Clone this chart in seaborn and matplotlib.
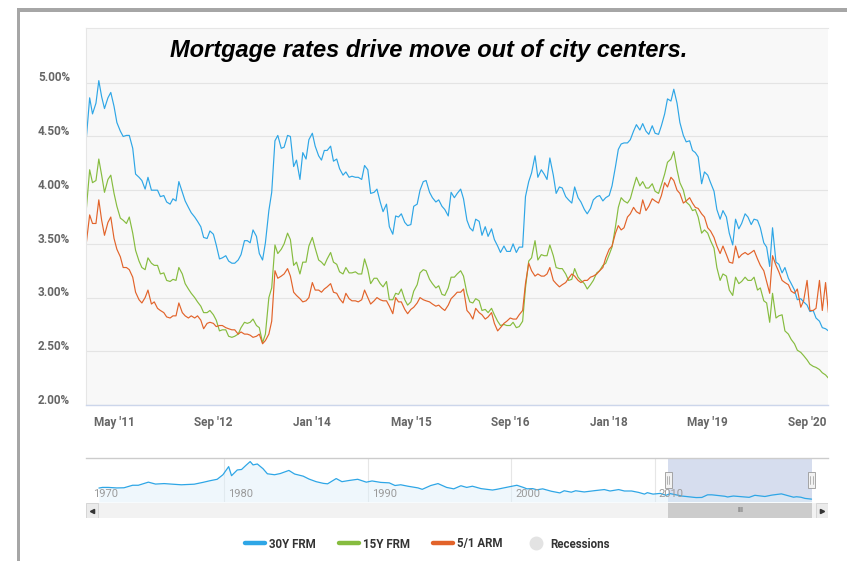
import pandas as pd
import matplotlib.pyplot as plt
import seaborn as sns
from matplotlib.lines import Line2D
from matplotlib.patches import Rectangle
from matplotlib.transforms import ScaledTranslation, blended_transform_factory

sns.set_style("white")
plt.rcParams["font.family"] = ["Roboto", "DejaVu Sans"]

# Rates, twice a month (1st and 15th) from 15 Dec 2010
first_date = "2010-12-15"

rate_30y = [
    4.47,
    4.86, 4.71, 4.81, 5.02, 4.87, 4.76, 4.86, 4.91, 4.78, 4.63, 4.55, 4.50, 4.51, 4.51, 4.39, 4.15, 4.12, 4.09, 4.01, 4.12, 4.00, 4.00, 4.00, 3.94,
    3.95, 3.89, 3.87, 3.92, 3.90, 4.08, 3.98, 3.90, 3.84, 3.79, 3.75, 3.71, 3.66, 3.56, 3.55, 3.62, 3.59, 3.49, 3.36, 3.37, 3.39, 3.34, 3.32, 3.32,
    3.35, 3.40, 3.53, 3.53, 3.51, 3.63, 3.57, 3.41, 3.35, 3.51, 3.81, 3.98, 4.46, 4.51, 4.39, 4.40, 4.51, 4.50, 4.22, 4.28, 4.10, 4.35, 4.29, 4.47,
    4.53, 4.41, 4.32, 4.28, 4.37, 4.37, 4.41, 4.27, 4.29, 4.20, 4.14, 4.17, 4.12, 4.13, 4.12, 4.12, 4.10, 4.23, 4.19, 3.97, 3.98, 4.01, 3.89, 3.80,
    3.87, 3.66, 3.59, 3.76, 3.75, 3.78, 3.70, 3.67, 3.68, 3.85, 3.87, 4.00, 4.08, 4.09, 3.98, 3.93, 3.89, 3.91, 3.85, 3.82, 3.76, 3.98, 3.93, 3.97,
    4.01, 3.92, 3.72, 3.65, 3.62, 3.73, 3.71, 3.58, 3.66, 3.57, 3.64, 3.54, 3.48, 3.42, 3.48, 3.43, 3.43, 3.50, 3.42, 3.47, 3.47, 3.94, 4.08, 4.16,
    4.32, 4.12, 4.19, 4.15, 4.10, 4.30, 4.14, 3.97, 4.03, 4.02, 3.94, 3.91, 3.88, 4.03, 3.93, 3.89, 3.82, 3.78, 3.83, 3.91, 3.94, 3.95, 3.90, 3.93,
    3.95, 4.04, 4.22, 4.38, 4.43, 4.44, 4.44, 4.47, 4.55, 4.61, 4.56, 4.62, 4.55, 4.52, 4.60, 4.53, 4.52, 4.60, 4.71, 4.85, 4.83, 4.94, 4.81, 4.63,
    4.51, 4.45, 4.46, 4.37, 4.35, 4.31, 4.06, 4.17, 4.14, 4.07, 3.99, 3.82, 3.73, 3.81, 3.75, 3.60, 3.49, 3.73, 3.64, 3.69, 3.78, 3.75, 3.68, 3.73,
    3.72, 3.65, 3.51, 3.47, 3.29, 3.65, 3.33, 3.31, 3.23, 3.28, 3.18, 3.13, 3.07, 2.98, 2.99, 2.96, 2.93, 2.87, 2.88, 2.81, 2.78, 2.72, 2.71, 2.69,
]

rate_15y = [
    3.81,
    4.19, 4.07, 4.09, 4.29, 4.14, 3.98, 4.10, 4.14, 3.97, 3.85, 3.74, 3.72, 3.69, 3.75, 3.60, 3.44, 3.34, 3.28, 3.26, 3.37, 3.32, 3.30, 3.30, 3.22,
    3.23, 3.16, 3.15, 3.17, 3.16, 3.28, 3.22, 3.13, 3.08, 3.04, 3.00, 2.96, 2.92, 2.86, 2.86, 2.88, 2.84, 2.79, 2.69, 2.70, 2.70, 2.64, 2.63, 2.64,
    2.66, 2.72, 2.77, 2.76, 2.77, 2.80, 2.74, 2.72, 2.58, 2.66, 3.00, 3.09, 3.49, 3.41, 3.45, 3.50, 3.60, 3.54, 3.30, 3.33, 3.22, 3.33, 3.33, 3.48,
    3.56, 3.46, 3.35, 3.33, 3.30, 3.36, 3.42, 3.33, 3.31, 3.24, 3.22, 3.28, 3.23, 3.23, 3.24, 3.22, 3.22, 3.36, 3.26, 3.13, 3.18, 3.18, 3.13, 3.10,
    3.15, 2.98, 2.98, 3.04, 3.03, 3.08, 2.98, 2.93, 2.96, 3.06, 3.12, 3.23, 3.26, 3.25, 3.17, 3.13, 3.09, 3.11, 3.03, 3.02, 3.09, 3.19, 3.19, 3.22,
    3.25, 3.20, 3.04, 2.96, 2.95, 2.99, 2.97, 2.88, 2.89, 2.86, 2.90, 2.84, 2.78, 2.74, 2.75, 2.74, 2.74, 2.77, 2.72, 2.73, 2.78, 3.09, 3.34, 3.37,
    3.53, 3.35, 3.40, 3.39, 3.39, 3.49, 3.39, 3.28, 3.27, 3.27, 3.22, 3.16, 3.17, 3.27, 3.19, 3.16, 3.13, 3.08, 3.12, 3.16, 3.23, 3.25, 3.30, 3.32,
    3.40, 3.47, 3.66, 3.84, 3.93, 3.90, 3.88, 3.92, 4.03, 4.12, 4.04, 4.08, 4.02, 4.02, 4.06, 3.99, 3.97, 4.05, 4.15, 4.26, 4.29, 4.36, 4.19, 4.07,
    4.00, 3.89, 3.86, 3.81, 3.82, 3.75, 3.60, 3.63, 3.60, 3.53, 3.46, 3.28, 3.16, 3.22, 3.20, 3.07, 3.02, 3.19, 3.13, 3.15, 3.19, 3.16, 3.16, 3.19,
    3.07, 3.09, 2.97, 2.95, 2.77, 3.04, 2.81, 2.83, 2.84, 2.69, 2.66, 2.61, 2.57, 2.51, 2.49, 2.46, 2.42, 2.38, 2.36, 2.35, 2.33, 2.30, 2.28, 2.25,
]

rate_arm = [
    3.50,
    3.77, 3.69, 3.69, 3.91, 3.72, 3.58, 3.70, 3.75, 3.55, 3.45, 3.38, 3.28, 3.28, 3.26, 3.19, 3.05, 2.98, 2.95, 3.00, 3.07, 2.94, 2.96, 2.90, 2.88,
    2.86, 2.82, 2.81, 2.83, 2.83, 2.95, 2.86, 2.83, 2.81, 2.83, 2.81, 2.83, 2.79, 2.71, 2.76, 2.77, 2.76, 2.73, 2.74, 2.74, 2.72, 2.71, 2.70, 2.70,
    2.66, 2.68, 2.66, 2.66, 2.65, 2.63, 2.64, 2.66, 2.57, 2.60, 2.66, 2.78, 3.25, 3.18, 3.20, 3.22, 3.27, 3.20, 3.05, 3.02, 2.99, 2.96, 2.97, 3.00,
    3.14, 3.07, 3.07, 3.05, 3.08, 3.10, 3.13, 3.05, 3.04, 2.99, 2.95, 3.04, 2.99, 2.97, 2.97, 2.96, 2.98, 3.07, 3.00, 2.94, 2.97, 3.00, 2.98, 2.97,
    2.97, 2.92, 2.85, 3.00, 2.96, 2.96, 2.89, 2.85, 2.89, 2.91, 2.95, 3.00, 2.98, 2.97, 2.96, 2.94, 2.92, 2.93, 2.90, 2.88, 2.93, 2.99, 3.02, 3.05,
    3.05, 3.08, 2.88, 2.85, 2.80, 2.90, 2.86, 2.84, 2.80, 2.82, 2.86, 2.76, 2.69, 2.72, 2.76, 2.78, 2.81, 2.80, 2.80, 2.84, 2.88, 3.13, 3.32, 3.25,
    3.20, 3.22, 3.20, 3.20, 3.22, 3.28, 3.16, 3.13, 3.10, 3.12, 3.14, 3.18, 3.22, 3.20, 3.16, 3.14, 3.16, 3.16, 3.19, 3.20, 3.22, 3.25, 3.28, 3.37,
    3.45, 3.48, 3.60, 3.67, 3.63, 3.65, 3.75, 3.78, 3.84, 3.80, 3.78, 3.91, 3.81, 3.85, 3.92, 3.90, 3.88, 3.95, 4.07, 4.03, 4.12, 4.09, 4.00, 3.97,
    3.88, 3.90, 3.93, 3.88, 3.84, 3.83, 3.78, 3.75, 3.65, 3.62, 3.56, 3.48, 3.41, 3.48, 3.40, 3.33, 3.32, 3.48, 3.37, 3.40, 3.42, 3.40, 3.42, 3.44,
    3.36, 3.30, 3.25, 3.15, 3.04, 3.39, 3.30, 3.24, 3.16, 3.14, 3.12, 3.06, 3.04, 3.08, 2.91, 2.97, 3.16, 2.88, 2.88, 2.90, 3.16, 2.88, 3.14, 2.86,
]

series_names = ["30Y FRM", "15Y FRM", "5/1 ARM"]
colors = ["#2ea6e6", "#86bc3f", "#e2632a"]

tick_dates = ["2011-05-01", "2012-09-01", "2014-01-01", "2015-05-01",
              "2016-09-01", "2018-01-01", "2019-05-01", "2020-09-01"]
tick_labels = ["May '11", "Sep '12", "Jan '14", "May '15",
               "Sep '16", "Jan '18", "May '19", "Sep '20"]
y_ticks = [2.0, 2.5, 3.0, 3.5, 4.0, 4.5, 5.0]

# navigator: 30Y FRM history since 1971 (year, rate)
nav_years = [1971.25, 1971.5, 1971.9, 1972.5, 1973.0, 1973.6, 1974.0, 1974.7, 1975.2, 1975.8,
             1976.5, 1977.0, 1977.9, 1978.5, 1979.0, 1979.5, 1979.9, 1980.3, 1980.5, 1980.9,
             1981.2, 1981.5, 1981.8, 1982.0, 1982.3, 1982.7, 1983.0, 1983.5, 1983.9, 1984.5,
             1984.9, 1985.5, 1985.9, 1986.4, 1986.9, 1987.2, 1987.8, 1988.2, 1988.7, 1989.3,
             1989.9, 1990.3, 1990.9, 1991.5, 1991.9, 1992.3, 1992.8, 1993.5, 1993.8, 1994.4,
             1994.9, 1995.5, 1996.0, 1996.5, 1996.9, 1997.3, 1997.9, 1998.7, 1999.0, 1999.9,
             2000.4, 2000.9, 2001.1, 2001.5, 2001.8, 2002.2, 2002.8, 2003.4, 2003.7, 2004.2,
             2004.5, 2005.1, 2005.9, 2006.5, 2006.9, 2007.5, 2007.9, 2008.4, 2008.9, 2009.3,
             2009.5, 2009.9, 2010.4, 2010.8, 2011.1, 2011.9, 2012.9, 2013.3, 2013.7, 2014.0,
             2014.9, 2015.1, 2015.5, 2016.6, 2017.0, 2017.7, 2018.2, 2018.85, 2019.7, 2019.9,
             2020.2, 2020.5, 2020.95]
nav_rates = [7.33, 7.60, 7.60, 7.38, 7.45, 8.50, 8.50, 9.80, 9.00, 9.20,
             8.90, 8.70, 8.95, 9.70, 10.40, 11.00, 12.90, 16.30, 12.50, 14.90,
             15.10, 16.80, 18.40, 17.00, 17.40, 15.40, 13.30, 12.90, 13.40, 14.70,
             13.20, 12.30, 11.10, 10.00, 9.30, 9.10, 11.30, 10.00, 10.50, 11.00,
             9.80, 10.30, 9.70, 9.50, 8.40, 8.70, 8.10, 7.40, 6.80, 8.40,
             9.20, 7.60, 7.00, 8.30, 7.60, 8.10, 7.10, 6.50, 6.80, 7.90,
             8.50, 7.50, 7.00, 7.10, 6.60, 7.00, 6.00, 5.30, 6.20, 5.60,
             6.20, 5.70, 6.30, 6.70, 6.10, 6.70, 6.10, 6.10, 5.50, 4.80,
             5.40, 4.80, 5.10, 4.30, 5.00, 4.00, 3.35, 3.40, 4.50, 4.50,
             3.90, 3.60, 4.00, 3.45, 4.30, 3.80, 4.40, 4.90, 3.50, 3.70,
             3.50, 3.00, 2.70]
nav_decades = [1980, 1990, 2000, 2010, 2020]
nav_labels = ["1970", "1980", "1990", "2000", "2010"]

dates = pd.date_range(first_date, periods=len(rate_30y), freq="SMS")
df = pd.DataFrame({"date": dates, "30Y FRM": rate_30y,
                   "15Y FRM": rate_15y, "5/1 ARM": rate_arm})
long = df.melt(id_vars="date", var_name="series", value_name="rate")

W, H = 847, 561
fig = plt.figure(figsize=(W / 100, H / 100), dpi=100)


def box(x0, y0, x1, y1):
    # pixel box (top-left origin) -> figure fraction rect
    return [x0 / W, 1 - y1 / H, (x1 - x0) / W, (y1 - y0) / H]


# ---- main chart
ax = fig.add_axes(box(86, 28, 828, 405))
ax.set_facecolor("#f8f8f8")
sns.lineplot(data=long, x="date", y="rate", hue="series", hue_order=series_names,
             palette=colors, linewidth=0.85, legend=False, ax=ax)
ax.set_xlim(pd.Timestamp("2010-12-14"), pd.Timestamp("2020-12-13"))
ax.set_ylim(2.0, 5.51)
ax.set_xlabel("")
ax.set_ylabel("")
ax.grid(axis="y", color="#e4e4e4", linewidth=0.8)
ax.set_axisbelow(True)

ax.set_yticks(y_ticks, [f"{v:.2f}%" for v in y_ticks])
ax.tick_params(axis="y", length=0, pad=11.5, labelsize=8.5, labelcolor="#666666")
for lab in ax.get_yticklabels():
    lab.set_fontweight("bold")
    lab.set_transform(lab.get_transform() + ScaledTranslation(0, 0.063, fig.dpi_scale_trans))

ax.set_xticks(pd.to_datetime(tick_dates), tick_labels)
ax.tick_params(axis="x", length=7, width=1, color="#ccd6eb", pad=1,
               labelsize=8.5, labelcolor="#666666")
for lab in ax.get_xticklabels():
    lab.set_fontweight("bold")

ax.spines["right"].set_visible(False)
ax.spines["top"].set_color("#e6e6e6")
ax.spines["left"].set_color("#e6e6e6")
ax.spines["top"].set_linewidth(0.8)
ax.spines["left"].set_linewidth(0.8)
ax.spines["bottom"].set_color("#ccd6eb")
ax.spines["bottom"].set_linewidth(1.0)

fig.text(429 / W, 1 - 57 / H, "Mortgage rates drive move out of city centers.",
         ha="center", va="baseline", fontsize=17, fontweight="bold", style="italic",
         family=["Liberation Sans", "DejaVu Sans"], color="black")

# ---- navigator
nav_x0, nav_x1 = 1970.35, 2022.1
sel_start = dates[0].year + (dates[0].dayofyear - 1) / 365.25
sel_end = dates[-1].year + (dates[-1].dayofyear - 1) / 365.25

nav = fig.add_axes(box(86, 458, 828, 502))
nav.set_xlim(nav_x0, nav_x1)
nav.set_ylim(1.5, 19.9)
nav.set_facecolor("white")
for d in nav_decades:
    nav.axvline(d, color="#e6e6e6", linewidth=0.8, zorder=0)
nav.axvspan(sel_start, sel_end, color="#d6ddee", zorder=1, linewidth=0)
nav.fill_between(nav_years, nav_rates, 1.5, color="#dcefFa", alpha=0.45, zorder=2, linewidth=0)
sns.lineplot(x=nav_years, y=nav_rates, color=colors[0], linewidth=0.9, ax=nav, zorder=3)
nav.set_xticks([])
nav.set_yticks([])
nav.set_xlabel("")
nav.set_ylabel("")
for s in ["left", "right", "bottom"]:
    nav.spines[s].set_visible(False)
nav.spines["top"].set_color("#cccccc")
nav.spines["top"].set_linewidth(1.0)

btf = blended_transform_factory(nav.transData, nav.transAxes)
for lbl in nav_labels:
    yr = int(lbl)
    nav.text(max(yr + 0.28, nav_x0 + 0.5), 0.18, lbl, transform=btf, color="#9a9a9a",
             fontsize=8, va="center", ha="left", zorder=4)

for xs in (sel_start, sel_end):
    nav.add_patch(Rectangle((xs - 0.24, 0.32), 0.48, 0.36, transform=btf,
                            facecolor="#f2f2f2", edgecolor="#999999", linewidth=0.6, zorder=5))
    for dx in (-0.08, 0.08):
        nav.plot([xs + dx, xs + dx], [0.40, 0.60], transform=btf, color="#999999",
                 linewidth=0.5, zorder=6)

# ---- scrollbar
sb = fig.add_axes(box(86, 503, 828, 518))
sb.set_xlim(nav_x0, nav_x1)
sb.set_ylim(0, 1)
sb.axis("off")
btn = 12 / 14.33
sb.add_patch(Rectangle((nav_x0, 0), nav_x1 - nav_x0, 1, color="#f2f2f2", linewidth=0))
sb.add_patch(Rectangle((nav_x0, 0), btn, 1, facecolor="#ebebeb", edgecolor="#cccccc", linewidth=0.5))
sb.add_patch(Rectangle((nav_x1 - btn, 0), btn, 1, facecolor="#ebebeb", edgecolor="#cccccc", linewidth=0.5))
sb.add_patch(Rectangle((sel_start, 0), sel_end - sel_start, 1, color="#cccccc", linewidth=0))
sb.plot([nav_x0 + btn / 2], [0.5], marker="<", markersize=3, color="#333333")
sb.plot([nav_x1 - btn / 2], [0.5], marker=">", markersize=3, color="#333333")
sb.text((sel_start + sel_end) / 2, 0.5, "III", ha="center", va="center",
        fontsize=5.5, color="#555555")

# ---- legend
handles = [Line2D([0], [0], color=c, linewidth=3.2, solid_capstyle="round") for c in colors]
handles.append(Line2D([0], [0], linestyle="none", marker="o", markersize=9,
                      markerfacecolor="#e3e3e3", markeredgecolor="#e3e3e3"))
leg = fig.legend(handles, series_names + ["Recessions"], loc="center",
                 bbox_to_anchor=(427 / W, 1 - 544 / H), ncol=4, frameon=False,
                 handlelength=1.75, handletextpad=0.35, columnspacing=2.0,
                 prop={"family": "Roboto", "weight": "bold", "size": 8.3})
for t in leg.get_texts():
    t.set_color("#333333")

# ---- outer frame (gray corner of the page box)
fig.add_artist(Rectangle((17 / W, 0), 3.3 / W, 1 - 8 / H, transform=fig.transFigure,
                         color="#a6a6a6", linewidth=0))
fig.add_artist(Rectangle((17 / W, 1 - 12 / H), 1 - 17 / W, 4.4 / H, transform=fig.transFigure,
                         color="#a6a6a6", linewidth=0))

fig.savefig("out.png", dpi=100)
